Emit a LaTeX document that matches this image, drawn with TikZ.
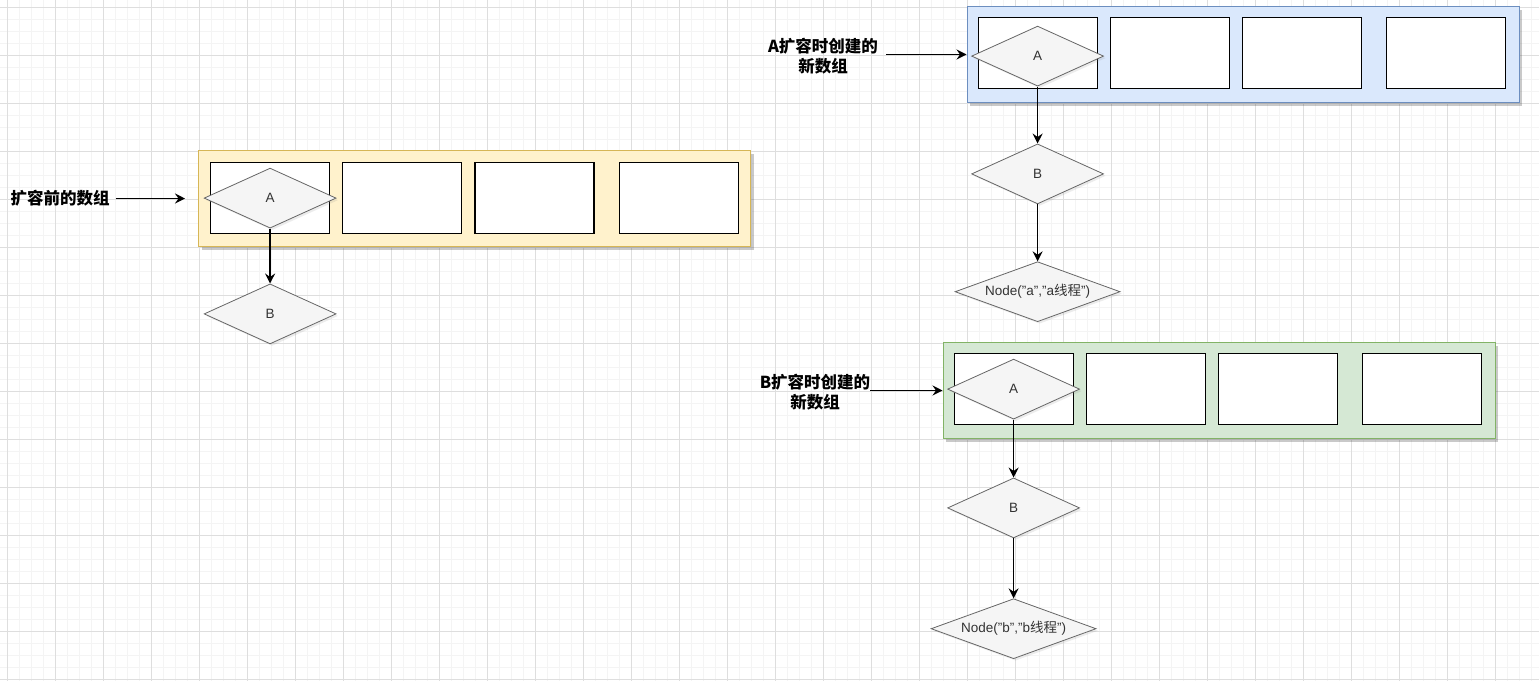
\documentclass[tikz,border=0pt]{standalone}
\usepackage{fontspec}
\setmainfont{Liberation Sans}
\newfontfamily\cjk{Noto Sans CJK SC}
\usetikzlibrary{arrows.meta,positioning,shapes.geometric,shadows}
\definecolor{gridminor}{RGB}{244,244,244}
\definecolor{gridmajor}{RGB}{222,222,222}
\definecolor{oldfill}{RGB}{255,242,204}
\definecolor{olddraw}{RGB}{214,182,86}
\definecolor{afill}{RGB}{218,232,252}
\definecolor{adraw}{RGB}{108,142,191}
\definecolor{bfill}{RGB}{213,232,212}
\definecolor{bdraw}{RGB}{130,179,102}
\definecolor{keyfill}{RGB}{245,245,245}
\definecolor{keydraw}{RGB}{102,102,102}
\definecolor{keytext}{RGB}{51,51,51}

\begin{document}
\begin{tikzpicture}[x=1pt,y=-1pt,
  node distance=12pt,
  frame/.style={draw,line width=1pt,minimum width=552pt,minimum height=96pt,inner sep=0pt,
    drop shadow={shadow xshift=3pt,shadow yshift=-3pt,opacity=0.3,fill=black!70}},
  cell/.style={draw=black,fill=white,line width=1.2pt,minimum width=119pt,minimum height=71pt,inner sep=0pt},
  key/.style={diamond,aspect=2.2,draw=keydraw,fill=keyfill,text=keytext,line width=0.8pt,
    font=\fontsize{13.5}{16}\selectfont,inner sep=0pt,minimum width=132pt,minimum height=60pt,
    drop shadow={shadow xshift=2pt,shadow yshift=-2pt,opacity=0.15}},
  wide/.style={aspect=3,minimum width=165pt},
  tag/.style={font=\fontsize{16.5}{20}\selectfont\bfseries\cjk,align=center,inner sep=0pt},
  arr/.style={-{Stealth[length=10pt,width=10pt,inset=3.5pt]},line width=1.3pt}
]
\useasboundingbox (0,0) rectangle (1539,681);
% grid
\foreach \x in {7.3,19.3,...,1539} \draw[gridminor,line width=0.8pt] (\x,0) -- (\x,681);
\foreach \y in {7.3,19.3,...,681} \draw[gridminor,line width=0.8pt] (0,\y) -- (1539,\y);
\foreach \x in {7.3,55.3,...,1539} \draw[gridmajor,line width=0.8pt] (\x,0) -- (\x,681);
\foreach \y in {7.3,55.3,...,681} \draw[gridmajor,line width=0.8pt] (0,\y) -- (1539,\y);

% array before resize
\node[frame,draw=olddraw,fill=oldfill] (old) at (474.5,198.5) {};
\node[cell,anchor=north west] (o1) at ([xshift=12pt,yshift=-12pt]old.north west) {};
\node[cell,right=of o1] (o2) {};
\node[cell,right=of o2] (o3) {};
\node[cell,right=24pt of o3] (o4) {};
\node[key] (oA) at (o1) {A};
\node[key,below=55pt of oA] (oB) {B};
\node[tag] (oldtag) at (60,198) {扩容前的数组};
\draw[arr] ([xshift=6pt]oldtag.east |- old.west) -- ([xshift=-13pt]old.west);
\draw[arr] (oA) -- (oB);

% array made by thread a
\node[frame,draw=adraw,fill=afill] (anew) at (1243,54.5) {};
\node[cell,anchor=north west] (a1) at ([xshift=11pt,yshift=-11pt]anew.north west) {};
\node[cell,right=of a1] (a2) {};
\node[cell,right=of a2] (a3) {};
\node[cell,right=24pt of a3] (a4) {};
\node[key] (aA) at ([yshift=-3pt]a1) {A};
\node[key,below=57pt of aA] (aB) {B};
\node[key,wide,below=57pt of aB] (aN) {Node("a","a{\cjk 线程}")};
\node[tag] (atag) at (823,56) {A扩容时创建的\\新数组};
\draw[arr] ([xshift=8pt]atag.east |- anew.west) -- (anew.west);
\draw[arr] (aA) -- (aB);
\draw[arr] (aB) -- (aN);

% array made by thread b
\node[frame,draw=bdraw,fill=bfill] (bnew) at (1219,390.5) {};
\node[cell,anchor=north west] (b1) at ([xshift=11pt,yshift=-11pt]bnew.north west) {};
\node[cell,right=of b1] (b2) {};
\node[cell,right=of b2] (b3) {};
\node[cell,right=24pt of b3] (b4) {};
\node[key] (bA) at (b1) {A};
\node[key,below=58pt of bA] (bB) {B};
\node[key,wide,below=60pt of bB] (bN) {Node("b","b{\cjk 线程}")};
\node[tag] (btag) at (815,392) {B扩容时创建的\\新数组};
\draw[arr] (btag.east |- bnew.west) -- (bnew.west);
\draw[arr] (bA) -- (bB);
\draw[arr] (bB) -- (bN);
\end{tikzpicture}
\end{document}
